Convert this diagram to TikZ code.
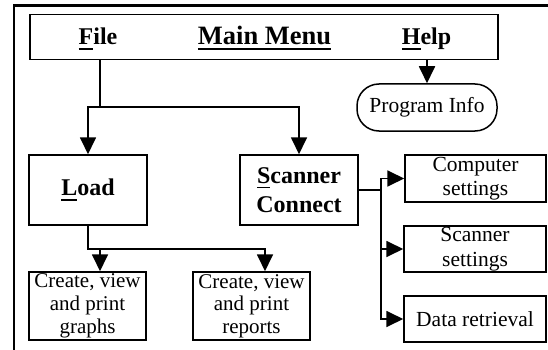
\documentclass[tikz,border=0pt]{standalone}
\usepackage{fontspec}
\setmainfont{Liberation Serif}
\usetikzlibrary{arrows.meta}
\newcommand{\ulx}[1]{\setbox0=\hbox{#1}\rlap{\rule[-5pt]{\wd0}{1.8pt}}\box0}
\newcommand{\regf}{\fontsize{21.5}{24.5}\selectfont}
\newcommand{\regg}{\fontsize{21}{22.7}\selectfont}
\newcommand{\bldf}{\bfseries\fontsize{24}{29}\selectfont}
\newcommand{\bigf}{\bfseries\fontsize{26.5}{30}\selectfont}
\begin{document}
\begin{tikzpicture}[x=1pt,y=-1pt,
  box/.style={draw, line width=1.5pt, inner sep=0pt, align=center},
  ln/.style={line width=1.8pt, line cap=rect},
  arr/.style={line width=1.8pt, -{Triangle[length=17pt,width=16pt]}}]
\useasboundingbox (0,0) rectangle (548,350);
% outer frame
\draw[line width=2.5pt] (14,350) -- (14,5.5) -- (548,5.5);
% main menu
\node[box, minimum width=468pt, minimum height=45pt] (main) at (264,37) {};
\node[anchor=base, font=\bldf, inner sep=0pt] (fileT) at (98,45) {\ulx{F}ile};
\node[anchor=base, font=\bigf, inner sep=0pt] (mainT) at (264.5,45) {\ulx{Main Menu}};
\node[anchor=base, font=\bldf, inner sep=0pt] (helpT) at (426.5,45) {\ulx{H}elp};
% boxes
\node[box, rounded corners=22pt, minimum width=140pt, minimum height=47pt, font=\regf] (prog) at (427,107.5) {Program Info};
\node[box, minimum width=118pt, minimum height=70pt, font=\bldf] (load) at (88,190) {\ulx{L}oad};
\node[box, minimum width=118pt, minimum height=70pt, font=\bldf] (scan) at (299,190) {\ulx{S}canner\\Connect};
\node[box, minimum width=141pt, minimum height=47pt, font=\regf] (comp) at (475.5,178.5) {Computer\\settings};
\node[box, minimum width=142pt, minimum height=46pt, font=\regf] (sset) at (475,249) {Scanner\\settings};
\node[box, minimum width=142pt, minimum height=46pt, font=\regf] (data) at (475,319) {Data retrieval};
\node[box, minimum width=117pt, minimum height=68pt, font=\regg] (graphs) at (87.5,306) {Create, view\\and print\\graphs};
\node[box, minimum width=117pt, minimum height=68pt, font=\regg] (reports) at (251.5,306) {Create, view\\and print\\reports};
% File connectors
\coordinate (fj) at (100,107);
\coordinate (fl) at (load.north |- fj);
\coordinate (fr) at (scan.north |- fj);
\draw[ln] (main.south -| fj) -- (fj);
\draw[ln] (fl) -- (fr);
\draw[arr] (fl) -- (load.north);
\draw[arr] (fr) -- (scan.north);
% Help connector
\draw[arr] (main.south -| prog.north) -- (prog.north);
% Scanner connectors
\coordinate (sj) at (381,190);
\draw[ln] (scan.east) -- (sj);
\draw[ln] (sj |- comp.west) -- (sj |- data.west);
\draw[arr] (sj |- comp.west) -- (comp.west);
\draw[arr] (sj |- sset.west) -- (sset.west);
\draw[arr] (sj |- data.west) -- (data.west);
% Load connectors
\coordinate (lj) at (88,249);
\coordinate (ga) at (100,249);
\coordinate (ra) at (265,249);
\draw[ln] (load.south) -- (lj) -- (ra);
\draw[arr] (ga) -- (ga |- graphs.north);
\draw[arr] (ra) -- (ra |- reports.north);
\end{tikzpicture}
\end{document}
